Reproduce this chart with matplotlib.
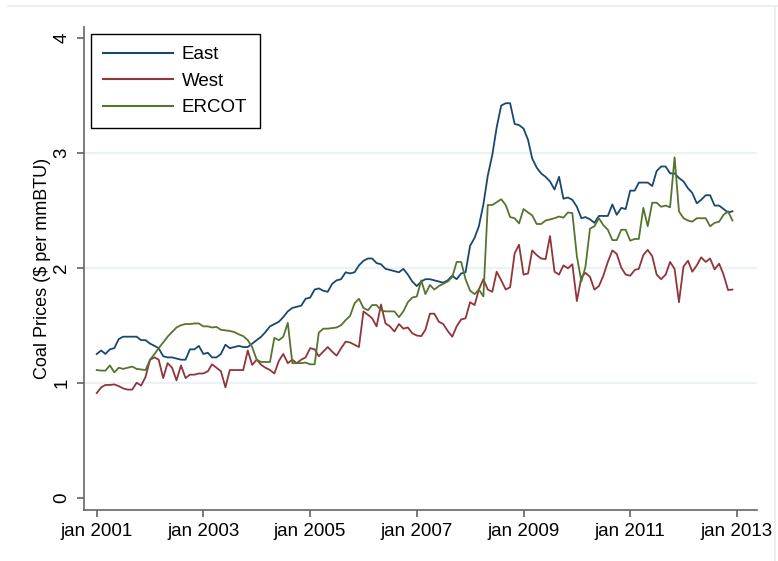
import numpy as np
import pandas as pd
import matplotlib
matplotlib.use("Agg")
import matplotlib.pyplot as plt
from matplotlib.lines import Line2D

plt.rcParams['font.family'] = ['Liberation Sans', 'DejaVu Sans']

# monthly coal prices, jan 2001 - dec 2012 ($ per mmBTU)
months = pd.date_range('2001-01-01', periods=144, freq='MS')

east = [
    1.25, 1.28, 1.25, 1.29, 1.30, 1.38, 1.40, 1.40, 1.40, 1.40, 1.37, 1.37,  # 2001
    1.34, 1.32, 1.30, 1.23, 1.22, 1.22, 1.21, 1.20, 1.20, 1.29, 1.29, 1.32,  # 2002
    1.25, 1.26, 1.22, 1.22, 1.25, 1.33, 1.30, 1.31, 1.32, 1.31, 1.31, 1.34,  # 2003
    1.37, 1.40, 1.44, 1.49, 1.51, 1.53, 1.57, 1.62, 1.65, 1.66, 1.67, 1.73,  # 2004
    1.74, 1.81, 1.82, 1.80, 1.79, 1.86, 1.89, 1.90, 1.96, 1.95, 1.96, 2.02,  # 2005
    2.06, 2.08, 2.08, 2.04, 2.03, 1.99, 1.98, 1.97, 1.96, 1.99, 1.94, 1.88,  # 2006
    1.84, 1.88, 1.90, 1.90, 1.89, 1.88, 1.87, 1.89, 1.93, 1.90, 1.95, 1.96,  # 2007
    2.19, 2.26, 2.36, 2.55, 2.80, 2.98, 3.22, 3.41, 3.43, 3.43, 3.25, 3.24,  # 2008
    3.21, 3.11, 2.95, 2.87, 2.82, 2.79, 2.75, 2.68, 2.79, 2.60, 2.61, 2.59,  # 2009
    2.53, 2.43, 2.44, 2.42, 2.39, 2.45, 2.45, 2.45, 2.55, 2.46, 2.52, 2.51,  # 2010
    2.67, 2.67, 2.74, 2.74, 2.74, 2.71, 2.84, 2.88, 2.88, 2.82, 2.82, 2.78,  # 2011
    2.75, 2.69, 2.65, 2.56, 2.59, 2.63, 2.63, 2.54, 2.54, 2.51, 2.48, 2.49,  # 2012
]

west = [
    0.91, 0.96, 0.98, 0.98, 0.985, 0.97, 0.95, 0.94, 0.94, 1.00, 0.975, 1.05,
    1.20, 1.22, 1.20, 1.04, 1.17, 1.13, 1.02, 1.15, 1.04, 1.07, 1.07, 1.08,
    1.08, 1.10, 1.16, 1.13, 1.10, 0.96, 1.11, 1.11, 1.11, 1.11, 1.28, 1.155,
    1.20, 1.155, 1.13, 1.11, 1.08, 1.19, 1.25, 1.17, 1.20, 1.17, 1.20, 1.22,
    1.30, 1.29, 1.23, 1.27, 1.31, 1.27, 1.235, 1.30, 1.357, 1.35, 1.33, 1.31,
    1.62, 1.59, 1.56, 1.49, 1.68, 1.515, 1.49, 1.445, 1.51, 1.47, 1.48, 1.43,
    1.41, 1.405, 1.46, 1.60, 1.60, 1.53, 1.51, 1.45, 1.40, 1.49, 1.55, 1.56,
    1.70, 1.675, 1.81, 1.90, 1.81, 1.79, 1.965, 1.89, 1.81, 1.83, 2.125, 2.20,
    1.94, 1.95, 2.15, 2.11, 2.08, 2.075, 2.275, 1.965, 1.94, 2.02, 1.995, 2.03,
    1.71, 1.92, 1.955, 1.92, 1.81, 1.84, 1.93, 2.05, 2.15, 2.12, 2.00, 1.94,
    1.93, 1.98, 1.99, 2.11, 2.155, 2.10, 1.94, 1.90, 1.94, 2.05, 1.99, 1.70,
    2.01, 2.06, 1.965, 2.02, 2.09, 2.05, 2.08, 1.985, 2.035, 1.94, 1.806, 1.81,
]

ercot = [
    1.11, 1.105, 1.105, 1.15, 1.09, 1.13, 1.12, 1.13, 1.14, 1.12, 1.115, 1.11,
    1.20, 1.25, 1.30, 1.35, 1.40, 1.44, 1.48, 1.50, 1.51, 1.51, 1.515, 1.515,
    1.49, 1.49, 1.48, 1.485, 1.46, 1.455, 1.45, 1.44, 1.42, 1.405, 1.37, 1.31,
    1.20, 1.18, 1.18, 1.18, 1.39, 1.37, 1.40, 1.52, 1.17, 1.17, 1.17, 1.175,
    1.16, 1.16, 1.435, 1.47, 1.47, 1.475, 1.48, 1.50, 1.545, 1.58, 1.69, 1.73,
    1.65, 1.63, 1.675, 1.675, 1.63, 1.62, 1.62, 1.62, 1.57, 1.62, 1.70, 1.74,
    1.75, 1.89, 1.77, 1.85, 1.81, 1.84, 1.86, 1.88, 1.92, 2.05, 2.05, 1.90,
    1.80, 1.77, 1.81, 1.75, 2.545, 2.545, 2.57, 2.595, 2.545, 2.44, 2.43, 2.385,
    2.51, 2.48, 2.455, 2.38, 2.38, 2.41, 2.42, 2.43, 2.445, 2.435, 2.48, 2.475,
    2.10, 1.88, 2.01, 2.34, 2.36, 2.43, 2.37, 2.33, 2.24, 2.24, 2.33, 2.33,
    2.235, 2.25, 2.25, 2.52, 2.36, 2.565, 2.565, 2.53, 2.54, 2.525, 2.96, 2.49,
    2.43, 2.41, 2.40, 2.43, 2.43, 2.43, 2.36, 2.39, 2.40, 2.46, 2.49, 2.41,
]

names = ['East', 'West', 'ERCOT']
colors = ['#1a476f', '#90353b', '#55752f']  # stata navy / maroon / forest green

tick_dates = pd.to_datetime(['2001-01-01', '2003-01-01', '2005-01-01', '2007-01-01',
                             '2009-01-01', '2011-01-01', '2013-01-01'])
tick_labels = ['jan 2001', 'jan 2003', 'jan 2005', 'jan 2007',
               'jan 2009', 'jan 2011', 'jan 2013']
y_ticks = [0, 1, 2, 3, 4]

fig = plt.figure(figsize=(7.78, 5.61), dpi=100)
ax = fig.add_axes([0.108, 0.0909, 0.8646, 0.861])

for vals, nm, col in zip([east, west, ercot], names, colors):
    ax.plot(months, vals, color=col, lw=1.3, label=nm)

# gridlines only at 1,2,3 like the original
for g in [1, 2, 3]:
    ax.axhline(g, color='#eaf2f3', lw=1.6, zorder=0)

ax.set_xlim(pd.Timestamp('2000-10-06'), pd.Timestamp('2013-05-16'))
ax.set_ylim(-0.107, 4.093)

ax.set_xticks(tick_dates)
ax.set_xticklabels(tick_labels)
ax.set_yticks(y_ticks)
ax.set_yticklabels([str(v) for v in y_ticks], rotation=90, va='center')

ax.tick_params(axis='both', labelsize=13.5, length=5, width=1.1, color='#555555')
ax.tick_params(axis='x', pad=4)
ax.tick_params(axis='y', pad=5)

for s in ['top', 'right']:
    ax.spines[s].set_visible(False)
for s in ['left', 'bottom']:
    ax.spines[s].set_color('#666666')
    ax.spines[s].set_linewidth(1.2)

ax.set_ylabel('Coal Prices ($ per mmBTU)', fontsize=13)
ax.yaxis.set_label_coords(-0.049, 0.5)

leg = ax.legend(loc='upper left', bbox_to_anchor=(0.117, 0.9394),
                bbox_transform=fig.transFigure, borderaxespad=0,
                fontsize=13.5, fancybox=False, framealpha=1,
                edgecolor='black', handlelength=3.7, handletextpad=0.5,
                labelspacing=0.5, borderpad=0.65)
leg.get_frame().set_linewidth(1.0)
for h in leg.get_lines():
    h.set_linewidth(1.5)

# faint outer border pieces of the graph region
fig.add_artist(Line2D([0.01, 1.0], [0.989, 0.989], transform=fig.transFigure,
                      color='#e6eef0', lw=1.2))
fig.add_artist(Line2D([0.996, 0.996], [0.0, 0.989], transform=fig.transFigure,
                      color='#e6eef0', lw=1.2))

fig.savefig('out.png', dpi=100)
